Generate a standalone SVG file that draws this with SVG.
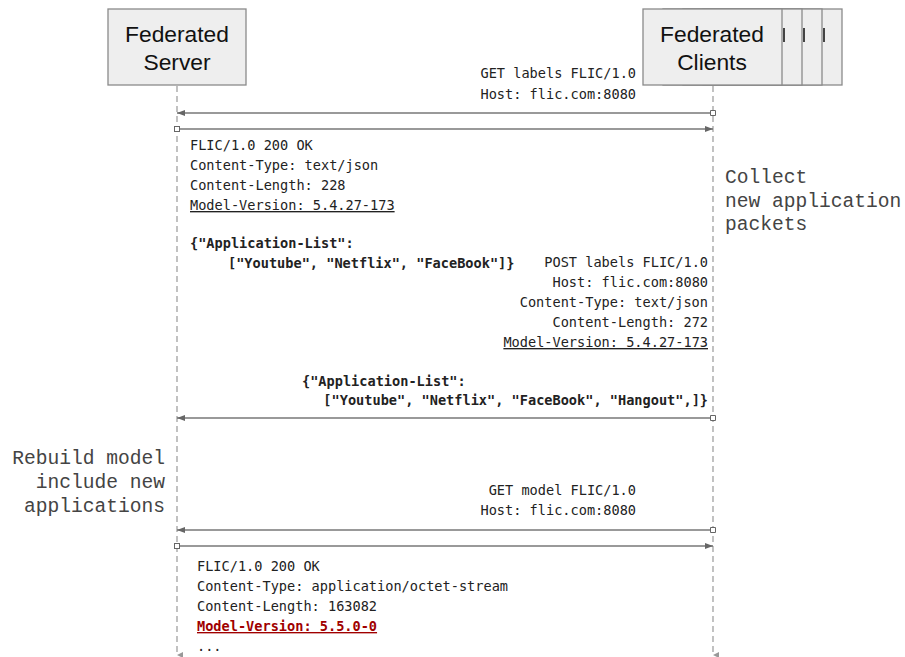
<svg xmlns="http://www.w3.org/2000/svg" width="905" height="657" viewBox="0 0 905 657">
<defs>
<style>
.box{fill:#eeeeee;stroke:#8a8a8a;stroke-width:1.3}
.title{font-family:"Liberation Sans",Arial,sans-serif;font-size:22.8px;fill:#111;text-anchor:middle}
.life{stroke:#999;stroke-width:1.2;stroke-dasharray:6,4;fill:none}
.msg{stroke:#777;stroke-width:1.3;fill:none}
.t{font-family:"DejaVu Sans Mono",monospace;font-size:13.6px;fill:#222}
.b{font-weight:bold}
.r{text-anchor:end}
.u{text-decoration:underline}
.note{font-family:"Liberation Mono","Courier New",monospace;font-size:19.6px;fill:#444}
.red{fill:#a00000}
</style>
<marker id="ah" markerWidth="8" markerHeight="6" refX="8" refY="3" orient="auto" markerUnits="userSpaceOnUse">
<path d="M0,0 L8,3 L0,6 z" fill="#666"/>
</marker>
<marker id="sq" markerWidth="6" markerHeight="6" refX="3" refY="3" orient="auto" markerUnits="userSpaceOnUse">
<rect x="0.5" y="0.5" width="5" height="5" fill="#fff" stroke="#666" stroke-width="1"/>
</marker>
<marker id="dn" markerWidth="6" markerHeight="6" refX="3" refY="6" orient="auto" markerUnits="userSpaceOnUse">
<path d="M0,0 L3,6 L6,0 z" fill="#999"/>
</marker>
</defs>

<g id="lifelines">
<line class="life" x1="177" y1="86" x2="177" y2="655" marker-end="url(#dn)"/>
<line class="life" x1="713" y1="86" x2="713" y2="655" marker-end="url(#dn)"/>
</g>

<g id="server">
<rect class="box" x="108" y="9" width="138" height="76"/>
<text class="title" x="177" y="42">Federated</text>
<text class="title" x="177" y="70">Server</text>
</g>

<g id="clients">
<rect class="box" x="703" y="9" width="139" height="76"/>
<rect class="box" x="683" y="9" width="139" height="76"/>
<rect class="box" x="663" y="9" width="139" height="76"/>
<rect class="box" x="643" y="9" width="139" height="76"/>
<line x1="784" y1="28" x2="784" y2="42" stroke="#444" stroke-width="2"/>
<line x1="804" y1="28" x2="804" y2="42" stroke="#444" stroke-width="2"/>
<line x1="824" y1="28" x2="824" y2="42" stroke="#444" stroke-width="2"/>
<text class="title" x="712" y="42">Federated</text>
<text class="title" x="712" y="70">Clients</text>
</g>

<g id="connectors">
<line class="msg" x1="713" y1="113" x2="177" y2="113" marker-start="url(#sq)" marker-end="url(#ah)"/>
<line class="msg" x1="177" y1="129" x2="713" y2="129" marker-start="url(#sq)" marker-end="url(#ah)"/>
<line class="msg" x1="713" y1="418" x2="177" y2="418" marker-start="url(#sq)" marker-end="url(#ah)"/>
<line class="msg" x1="713" y1="530" x2="177" y2="530" marker-start="url(#sq)" marker-end="url(#ah)"/>
<line class="msg" x1="177" y1="546" x2="713" y2="546" marker-start="url(#sq)" marker-end="url(#ah)"/>
</g>

<g id="labels">
<text class="t r" x="636" y="78">GET labels FLIC/1.0</text>
<text class="t r" x="636" y="99">Host: flic.com:8080</text>

<text class="t" x="190" y="150">FLIC/1.0 200 OK</text>
<text class="t" x="190" y="170">Content-Type: text/json</text>
<text class="t" x="190" y="190">Content-Length: 228</text>
<text class="t u" x="190" y="210">Model-Version: 5.4.27-173</text>
<text class="t b" x="190" y="248">{"Application-List":</text>
<text class="t b" x="228" y="268">["Youtube", "Netflix", "FaceBook"]}</text>

<text class="t r" x="708" y="267">POST labels FLIC/1.0</text>
<text class="t r" x="708" y="287">Host: flic.com:8080</text>
<text class="t r" x="708" y="307">Content-Type: text/json</text>
<text class="t r" x="708" y="327">Content-Length: 272</text>
<text class="t r u" x="708" y="347">Model-Version: 5.4.27-173</text>
<text class="t b" x="302" y="386">{"Application-List":</text>
<text class="t b r" x="708" y="405">["Youtube", "Netflix", "FaceBook", "Hangout",]}</text>

<text class="t r" x="636" y="495">GET model FLIC/1.0</text>
<text class="t r" x="636" y="515">Host: flic.com:8080</text>

<text class="t" x="197" y="571">FLIC/1.0 200 OK</text>
<text class="t" x="197" y="591">Content-Type: application/octet-stream</text>
<text class="t" x="197" y="611">Content-Length: 163082</text>
<text class="t b u red" x="197" y="631">Model-Version: 5.5.0-0</text>
<text class="t" x="197" y="651">...</text>
</g>

<g id="notes">
<text class="note" x="725" y="183">Collect</text>
<text class="note" x="725" y="207">new application</text>
<text class="note" x="725" y="230">packets</text>
<text class="note r" x="165" y="464">Rebuild model</text>
<text class="note r" x="165" y="488">include new</text>
<text class="note r" x="165" y="512">applications</text>
</g>
</svg>
